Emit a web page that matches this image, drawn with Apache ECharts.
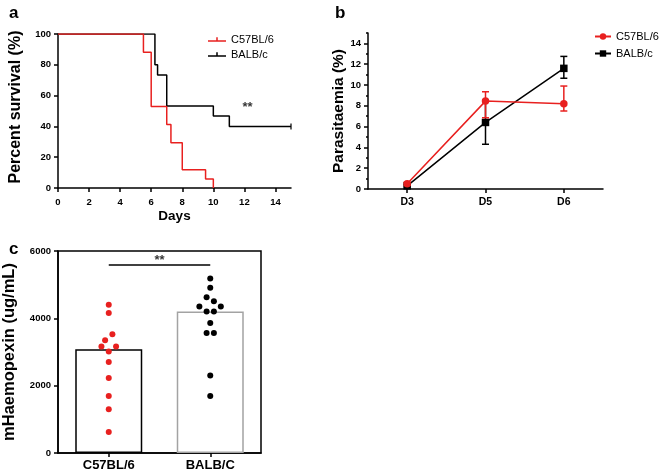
<!DOCTYPE html>
<html>
<head>
<meta charset="utf-8">
<script src="https://cdn.jsdelivr.net/npm/echarts@6/dist/echarts.min.js"></script>
<style>
html,body{margin:0;padding:0;background:#fff;}
#chart{width:660px;height:475px;}
</style>
</head>
<body>
<div id="chart"></div>
<script>
// ---------- Panel a: survival ----------
const c57SurvDays = [0, 5.5, 6, 7, 7.27, 8, 9.5, 10];
const c57Surv     = [100, 88.2, 52.9, 41.2, 29.4, 11.8, 5.9, 0];
const balbSurvDays = [0, 6.24, 6.41, 7, 10, 11.03, 15];
const balbSurv     = [100, 80, 73.3, 53.3, 46.7, 40, 40];
const balbCensor   = [[15, 40]];
const dayTicks = [0, 2, 4, 6, 8, 10, 12, 14];
const survTicks = [0, 20, 40, 60, 80, 100];
const sigA = [[12.2, 52]];

// ---------- Panel b: parasitaemia ----------
const paraDays = ['D3', 'D5', 'D6'];
const c57Para     = [0.5, 8.45, 8.2];
const c57ParaLow  = [0.35, 6.85, 7.5];
const c57ParaHigh = [0.65, 9.35, 9.9];
const balbPara     = [0.3, 6.4, 11.6];
const balbParaLow  = [0.2, 4.3, 10.65];
const balbParaHigh = [0.4, 8.5, 12.75];
const paraMajorTicks = [0, 2, 4, 6, 8, 10, 12, 14];
const paraMinorTicks = [1, 3, 5, 7, 9, 11, 13, 15];

// ---------- Panel c: haemopexin ----------
const strains = ['C57BL/6', 'BALB/C'];
const hpxMeans = [3080, 4200];
const c57Hpx    = [4407, 4158, 3525, 3347, 3160, 3160, 3012, 2703, 2228, 1693, 1298, 624];
const c57Jitter = [0, 0, 0.036, -0.036, -0.072, 0.072, 0, 0, 0, 0, 0, 0];
const balbHpx    = [5180, 4912, 4624, 4505, 4348, 4348, 4200, 4200, 3861, 3564, 3564, 2299, 1693];
const balbJitter = [0, 0, -0.036, 0.036, -0.107, 0.104, -0.036, 0.036, 0, -0.036, 0.036, 0, 0];
const sigLineC = 5600;
const sigC = [[0.5, 5720]];

const RED = '#e8201f';
const BLACK = '#000';
const FONT = '"Liberation Sans", Arial, sans-serif';

const zip = (xs, ys) => xs.map((x, i) => [x, ys[i]]);

function errorBarSeries(name, color, low, high, xIdx, yIdx, z) {
  return {
    type: 'custom', name: name + '_err', xAxisIndex: xIdx, yAxisIndex: yIdx, z: z,
    data: low.map((l, i) => [i, l, high[i]]),
    renderItem: function (params, api) {
      const lo = api.coord([api.value(0), api.value(1)]);
      const hi = api.coord([api.value(0), api.value(2)]);
      const w = 3.5;
      const st = { stroke: color, lineWidth: 1.5 };
      return { type: 'group', children: [
        { type: 'line', shape: { x1: lo[0], y1: lo[1], x2: hi[0], y2: hi[1] }, style: st },
        { type: 'line', shape: { x1: lo[0] - w, y1: lo[1], x2: lo[0] + w, y2: lo[1] }, style: st },
        { type: 'line', shape: { x1: hi[0] - w, y1: hi[1], x2: hi[0] + w, y2: hi[1] }, style: st }
      ]};
    },
    silent: true
  };
}

const axisLineStyle = { onZero: false, lineStyle: { color: BLACK, width: 1.5 } };
const tickStyle = { lineStyle: { color: BLACK, width: 1.5 } };
const labelBold = (size, margin) => ({ color: BLACK, fontFamily: FONT, fontWeight: 'bold', fontSize: size, margin: margin });

const chart = echarts.init(document.getElementById('chart'), null, { renderer: 'canvas' });

const titleStyle = { fontSize: 17, fontWeight: 'bold', fontFamily: FONT, color: BLACK };
const option = {
  animation: false,
  backgroundColor: '#fff',
  textStyle: { fontFamily: FONT },
  title: [
    { text: 'a', left: 9, top: 5, padding: 0, textStyle: titleStyle },
    { text: 'b', left: 335, top: 5, padding: 0, textStyle: titleStyle },
    { text: 'c', left: 9, top: 241, padding: 0, textStyle: titleStyle }
  ],
  legend: [
    {
      left: 203, top: 29, orient: 'vertical', itemGap: 4, itemWidth: 18, itemHeight: 5,
      data: [
        { name: 'C57BL/6', icon: 'path://M0,3h18v1.5h-18z M8.25,0h1.5v3h-1.5z' },
        { name: 'BALB/c', icon: 'path://M0,3h18v1.5h-18z M8.25,0h1.5v3h-1.5z' }
      ],
      textStyle: { fontSize: 11, color: BLACK, fontFamily: FONT },
      selectedMode: false
    },
    {
      left: 589, top: 26, orient: 'vertical', itemGap: 6, itemWidth: 16, itemHeight: 8,
      data: ['C57BL/6 ', 'BALB/c '],
      textStyle: { fontSize: 11, color: BLACK, fontFamily: FONT },
      selectedMode: false
    }
  ],
  grid: [
    { left: 58, top: 34, width: 233, height: 154 },
    { left: 368, top: 33, width: 235, height: 156 },
    { left: 58, top: 251, width: 203, height: 202, show: true, borderColor: BLACK, borderWidth: 1.5, backgroundColor: 'transparent' }
  ],
  xAxis: [
    {
      gridIndex: 0, type: 'value', min: 0, max: 15,
      axisLine: axisLineStyle,
      axisTick: Object.assign({ show: true, length: 4, customValues: dayTicks }, tickStyle),
      axisLabel: Object.assign(labelBold(9.5, 9), { customValues: dayTicks }),
      splitLine: { show: false },
      name: 'Days', nameLocation: 'middle', nameGap: 21,
      nameTextStyle: { fontSize: 13.5, fontWeight: 'bold', color: BLACK, fontFamily: FONT }
    },
    {
      gridIndex: 1, type: 'category', data: paraDays, boundaryGap: true,
      axisLine: axisLineStyle,
      axisTick: Object.assign({ show: true, length: 4, alignWithLabel: true }, tickStyle),
      axisLabel: labelBold(10.5, 8)
    },
    {
      gridIndex: 2, type: 'category', data: strains, boundaryGap: true, position: 'bottom',
      axisLine: axisLineStyle,
      axisTick: Object.assign({ show: true, length: 4, alignWithLabel: true }, tickStyle),
      axisLabel: labelBold(13, 6)
    },
    {
      gridIndex: 2, type: 'value', min: -0.5, max: 1.5, position: 'bottom', show: false,
      axisLine: { show: false, onZero: false },
      splitLine: { show: false }
    }
  ],
  yAxis: [
    {
      gridIndex: 0, type: 'value', min: 0, max: 100,
      axisLine: Object.assign({ show: true }, axisLineStyle),
      axisTick: Object.assign({ show: true, length: 4, customValues: survTicks }, tickStyle),
      axisLabel: Object.assign(labelBold(9.5, 7), { customValues: survTicks }),
      splitLine: { show: false },
      name: 'Percent survival (%)', nameLocation: 'middle', nameGap: 34, nameRotate: 90,
      nameTextStyle: { fontSize: 16, fontWeight: 'bold', color: BLACK, fontFamily: FONT, padding: [0, 0, 0, 8] }
    },
    {
      gridIndex: 1, type: 'value', min: 0, max: 15, position: 'left',
      axisLine: Object.assign({ show: true }, axisLineStyle),
      axisTick: Object.assign({ show: true, length: 4, customValues: paraMajorTicks }, tickStyle),
      axisLabel: Object.assign(labelBold(9.5, 7), { customValues: paraMajorTicks }),
      splitLine: { show: false },
      name: 'Parasitaemia (%)', nameLocation: 'middle', nameGap: 20, nameRotate: 90,
      nameTextStyle: { fontSize: 15.5, fontWeight: 'bold', color: BLACK, fontFamily: FONT }
    },
    {
      gridIndex: 1, type: 'value', min: 0, max: 15, position: 'left',
      axisLine: { show: false, onZero: false },
      axisTick: Object.assign({ show: true, length: 2, customValues: paraMinorTicks }, tickStyle),
      axisLabel: { show: false },
      splitLine: { show: false }
    },
    {
      gridIndex: 2, type: 'value', min: 0, max: 6000, interval: 2000,
      axisLine: Object.assign({ show: true }, axisLineStyle),
      axisTick: Object.assign({ show: true, length: 4 }, tickStyle),
      axisLabel: Object.assign(labelBold(9.5, 7), { formatter: v => String(v) }),
      splitLine: { show: false },
      name: 'mHaemopexin (ug/mL)', nameLocation: 'middle', nameGap: 40, nameRotate: 90,
      nameTextStyle: { fontSize: 16.5, fontWeight: 'bold', color: BLACK, fontFamily: FONT }
    }
  ],
  series: [
    // Panel a
    {
      type: 'line', name: 'BALB/c', xAxisIndex: 0, yAxisIndex: 0, step: 'end',
      data: zip(balbSurvDays, balbSurv), showSymbol: false, symbol: 'none',
      color: BLACK, lineStyle: { color: BLACK, width: 1.5 }, z: 2
    },
    {
      type: 'scatter', name: 'BALB/c censor', xAxisIndex: 0, yAxisIndex: 0,
      data: balbCensor, symbol: 'rect', symbolSize: [1.5, 6],
      itemStyle: { color: BLACK }, z: 2
    },
    {
      type: 'line', name: 'C57BL/6', xAxisIndex: 0, yAxisIndex: 0, step: 'end',
      data: zip(c57SurvDays, c57Surv), showSymbol: false, symbol: 'none',
      color: RED, lineStyle: { color: RED, width: 1.5 }, z: 3
    },
    {
      type: 'scatter', name: 'sigA', xAxisIndex: 0, yAxisIndex: 0, data: sigA,
      symbolSize: 0, silent: true,
      label: { show: true, position: 'inside', formatter: '**', fontSize: 13, fontWeight: 'bold', color: BLACK, fontFamily: FONT }
    },
    // Panel b
    errorBarSeries('BALB/c ', BLACK, balbParaLow, balbParaHigh, 1, 1, 2),
    {
      type: 'line', name: 'BALB/c ', xAxisIndex: 1, yAxisIndex: 1, data: balbPara,
      symbol: 'rect', symbolSize: 7.5, showSymbol: true,
      color: BLACK, lineStyle: { color: BLACK, width: 1.5 }, itemStyle: { color: BLACK }, z: 3
    },
    errorBarSeries('C57BL/6 ', RED, c57ParaLow, c57ParaHigh, 1, 1, 4),
    {
      type: 'line', name: 'C57BL/6 ', xAxisIndex: 1, yAxisIndex: 1, data: c57Para,
      symbol: 'circle', symbolSize: 7.5, showSymbol: true,
      color: RED, lineStyle: { color: RED, width: 1.5 }, itemStyle: { color: RED }, z: 5
    },
    // Panel c
    {
      type: 'bar', name: 'mean', xAxisIndex: 2, yAxisIndex: 3, barWidth: 67,
      data: [
        { value: hpxMeans[0], itemStyle: { color: '#fff', borderColor: BLACK, borderWidth: 1.5 } },
        { value: hpxMeans[1], itemStyle: { color: '#fff', borderColor: '#a3a3a3', borderWidth: 1.5 } }
      ],
      z: 1
    },
    {
      type: 'scatter', name: 'c57 pts', xAxisIndex: 3, yAxisIndex: 3,
      data: c57Hpx.map((v, i) => [0 + c57Jitter[i], v]),
      symbol: 'circle', symbolSize: 6, itemStyle: { color: RED, opacity: 1 }, z: 3
    },
    {
      type: 'scatter', name: 'balb pts', xAxisIndex: 3, yAxisIndex: 3,
      data: balbHpx.map((v, i) => [1 + balbJitter[i], v]),
      symbol: 'circle', symbolSize: 6, itemStyle: { color: BLACK, opacity: 1 }, z: 3,
      markLine: {
        silent: true, symbol: ['none', 'none'], animation: false,
        lineStyle: { color: BLACK, width: 1.5, type: 'solid' },
        label: { show: false },
        data: [[{ coord: [0, sigLineC] }, { coord: [1, sigLineC] }]]
      }
    },
    {
      type: 'scatter', name: 'sigC', xAxisIndex: 3, yAxisIndex: 3, data: sigC,
      symbolSize: 0, silent: true,
      label: { show: true, position: 'inside', formatter: '**', fontSize: 13, fontWeight: 'bold', color: BLACK, fontFamily: FONT }
    }
  ]
};
chart.setOption(option);
</script>
</body>
</html>
